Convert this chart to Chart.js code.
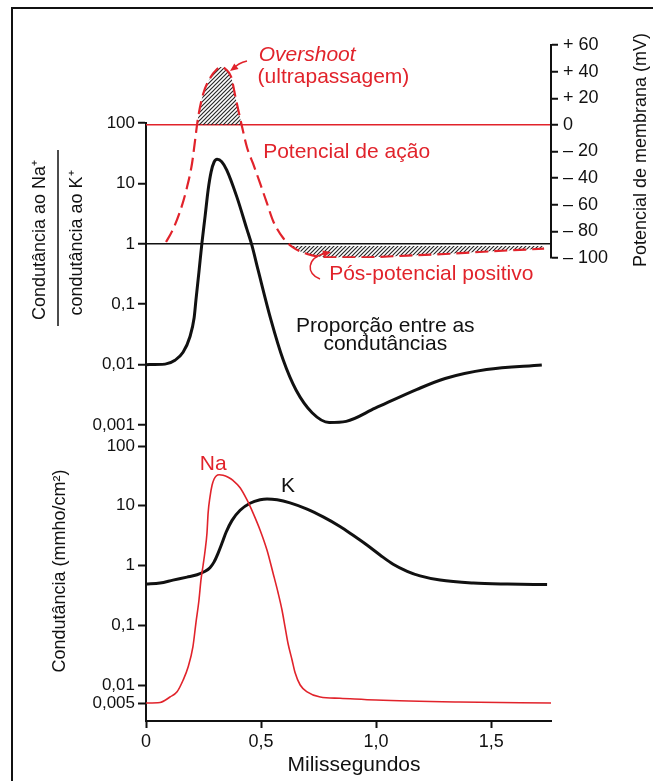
<!DOCTYPE html>
<html>
<head>
<meta charset="utf-8">
<script src="https://cdn.jsdelivr.net/npm/chart.js@4.4.1/dist/chart.umd.min.js"></script>
<style>
  html, body { margin: 0; padding: 0; background: #fff; }
  #wrap { position: relative; width: 653px; height: 781px; overflow: hidden; }
  #wrap canvas { position: absolute; left: 0; top: 0; }
  #frame { position: absolute; left: 11px; top: 7px; width: 700px; height: 800px; border: 2px solid #111; box-sizing: border-box; }
</style>
</head>
<body>
<div id="wrap">
  <div id="frame"></div>
  <canvas id="ratioChart" width="653" height="781"></canvas>
  <canvas id="membraneChart" width="653" height="781"></canvas>
  <canvas id="condChart" width="653" height="781"></canvas>
</div>
<script>
// gNa / gK ratio (top panel, log scale)
const ratioTime  = [0, 0.083, 0.126, 0.161, 0.191, 0.209, 0.217, 0.23, 0.243, 0.257, 0.27, 0.283, 0.296, 0.309, 0.329, 0.351, 0.394, 0.438, 0.46, 0.487, 0.543, 0.596, 0.652, 0.722, 0.796, 0.87, 0.996, 1.178, 1.3, 1.48, 1.72];
const ratioValue = [0.01, 0.0102, 0.0118, 0.016, 0.029, 0.059, 0.117, 0.34, 1.03, 2.9, 7.8, 15.5, 22.6, 25, 22.9, 16.6, 6.1, 1.77, 0.95, 0.37, 0.055, 0.012, 0.0038, 0.0016, 0.0011, 0.00115, 0.0019, 0.0039, 0.0059, 0.0083, 0.0099];

// action potential (mV, right axis)
const apTime  = [0.087, 0.113, 0.148, 0.178, 0.2, 0.213, 0.226, 0.248, 0.278, 0.309, 0.325, 0.345, 0.37, 0.39, 0.413, 0.439, 0.465, 0.496, 0.526, 0.552, 0.596, 0.639, 0.7, 0.8, 0.95, 1.1, 1.3, 1.5, 1.73];
const apValue = [-88, -80, -65, -47, -29, -12, 5, 23, 35, 42, 43.5, 42, 36, 20, 2, -17, -29, -44, -59, -72, -85, -92, -97, -99.5, -99.5, -98.5, -97, -95, -93];

// conductances (bottom panel, mmho/cm2)
const naTime  = [0, 0.061, 0.104, 0.135, 0.161, 0.183, 0.204, 0.217, 0.23, 0.239, 0.248, 0.257, 0.265, 0.27, 0.278, 0.287, 0.296, 0.305, 0.318, 0.335, 0.357, 0.378, 0.409, 0.439, 0.465, 0.496, 0.526, 0.552, 0.574, 0.591, 0.604, 0.617, 0.635, 0.648, 0.67, 0.7, 0.757, 0.843, 1.0, 1.36, 1.76];
const naValue = [0.005, 0.0051, 0.0063, 0.0077, 0.012, 0.02, 0.044, 0.11, 0.26, 0.58, 1.0, 1.8, 3.5, 7.6, 14, 22, 28, 31.5, 33, 32.5, 30, 26.5, 20, 12.5, 7.6, 3.9, 1.8, 0.75, 0.35, 0.18, 0.095, 0.05, 0.026, 0.016, 0.01, 0.0077, 0.0063, 0.006, 0.0056, 0.0052, 0.005];
const kTime  = [0, 0.061, 0.117, 0.178, 0.222, 0.257, 0.278, 0.296, 0.313, 0.33, 0.348, 0.374, 0.409, 0.452, 0.496, 0.526, 0.57, 0.626, 0.7, 0.77, 0.843, 0.9, 0.96, 1.017, 1.074, 1.135, 1.191, 1.278, 1.422, 1.57, 1.743];
const kValue = [0.49, 0.51, 0.57, 0.64, 0.7, 0.8, 0.92, 1.15, 1.6, 2.35, 3.6, 5.7, 8.4, 11, 12.6, 13, 12.6, 11.2, 8.8, 6.5, 4.5, 3.2, 2.2, 1.5, 1.05, 0.8, 0.67, 0.57, 0.51, 0.49, 0.48];

// axis ticks
const timeTicks = [0, 0.5, 1.0, 1.5];
const timeTickLabels = ["0", "0,5", "1,0", "1,5"];
const ratioTicks = [0.001, 0.01, 0.1, 1, 10, 100];
const ratioTickLabels = ["0,001", "0,01", "0,1", "1", "10", "100"];
const mvTicks = [-100, -80, -60, -40, -20, 0, 20, 40, 60];
const mvTickLabels = ["\u2013 100", "\u2013 80", "\u2013 60", "\u2013 40", "\u2013 20", "0", "+ 20", "+ 40", "+ 60"];
const condTicks = [0.005, 0.01, 0.1, 1, 10, 100];
const condTickLabels = ["0,005", "0,01", "0,1", "1", "10", "100"];

const RED = "#e1232b";
const INK = "#111";
const FONT = "'Liberation Sans', Arial, Helvetica, sans-serif";
const NONE = "rgba(0,0,0,0)";
const timeMax = 1.76;

function pts(xs, ys) { return xs.map((x, i) => ({ x: x, y: ys[i] })); }

function hatch() {
  const c = document.createElement("canvas");
  c.width = 4; c.height = 4;
  const g = c.getContext("2d");
  g.strokeStyle = "#2a2a2a";
  g.lineWidth = 1.2;
  g.beginPath();
  g.moveTo(0, 4); g.lineTo(4, 0);
  g.moveTo(-1, 1); g.lineTo(1, -1);
  g.moveTo(3, 5); g.lineTo(5, 3);
  g.stroke();
  return g.createPattern(c, "repeat");
}

function txt(ctx, s, x, y, opt) {
  opt = opt || {};
  ctx.save();
  ctx.translate(x, y);
  if (opt.rot) ctx.rotate(opt.rot);
  ctx.font = (opt.style || "") + " " + (opt.size || 18) + "px " + FONT;
  ctx.fillStyle = opt.color || INK;
  ctx.textAlign = opt.align || "left";
  ctx.textBaseline = "middle";
  ctx.fillText(s, 0, 0);
  ctx.restore();
}

function arrowHead(ctx, x, y, ang, color) {
  ctx.save();
  ctx.fillStyle = color;
  ctx.translate(x, y);
  ctx.rotate(ang);
  ctx.beginPath();
  ctx.moveTo(0, 0); ctx.lineTo(-8, -3.5); ctx.lineTo(-8, 3.5);
  ctx.closePath();
  ctx.fill();
  ctx.restore();
}

const tickFont = { family: FONT, size: 17 };
const hiddenX = { type: "linear", min: 0, max: timeMax, display: false };
const pattern = hatch();

// Top panel: ratio of conductances
new Chart(document.getElementById("ratioChart"), {
  type: "line",
  data: {
    datasets: [{
      data: pts(ratioTime, ratioValue),
      borderColor: INK, borderWidth: 3, pointRadius: 0,
      cubicInterpolationMode: "monotone", fill: false
    }]
  },
  options: {
    responsive: false, animation: false,
    layout: { padding: { top: 123, bottom: 335, left: 0, right: 102 } },
    plugins: { legend: { display: false }, tooltip: { enabled: false } },
    scales: {
      x: hiddenX,
      y: {
        type: "logarithmic", min: 0.00045, max: 100,
        afterBuildTicks: s => { s.ticks = ratioTicks.map(v => ({ value: v })); },
        afterFit: s => { s.width = 146; },
        ticks: { callback: (v, i) => ratioTickLabels[i], font: tickFont, color: INK, padding: 3, autoSkip: false },
        grid: {
          color: c => (c.tick && c.tick.value === 1 ? INK : NONE),
          lineWidth: 1.5, tickColor: INK, tickLength: 8, tickWidth: 2
        },
        border: { color: INK, width: 2 }
      }
    }
  },
  plugins: [{
    id: "ratioText",
    afterDraw(chart) {
      const ctx = chart.ctx, x = chart.scales.x, y = chart.scales.y;
      txt(ctx, "Condut\u00e2ncia ao Na\u207a", 40, 240, { rot: -Math.PI / 2, align: "center", size: 18 });
      txt(ctx, "condut\u00e2ncia ao K\u207a", 77, 243, { rot: -Math.PI / 2, align: "center", size: 18 });
      ctx.save();
      ctx.strokeStyle = INK; ctx.lineWidth = 1.5;
      ctx.beginPath(); ctx.moveTo(58, 150); ctx.lineTo(58, 326); ctx.stroke();
      ctx.restore();
      const cx = x.getPixelForValue(1.04);
      txt(ctx, "Propor\u00e7\u00e3o entre as", cx, y.getPixelForValue(0.044), { align: "center", size: 21 });
      txt(ctx, "condut\u00e2ncias", cx, y.getPixelForValue(0.022), { align: "center", size: 21 });
    }
  }]
});

// Top panel: membrane potential (right axis)
new Chart(document.getElementById("membraneChart"), {
  type: "line",
  data: {
    datasets: [{
      data: pts(apTime, apValue),
      borderColor: RED, borderWidth: 2.2, borderDash: [13, 6], pointRadius: 0,
      cubicInterpolationMode: "monotone",
      fill: { target: { value: 0 }, above: pattern, below: NONE }
    }, {
      data: pts(apTime, apValue),
      borderColor: NONE, borderWidth: 0, pointRadius: 0,
      cubicInterpolationMode: "monotone",
      fill: { target: { value: -91 }, above: NONE, below: pattern }
    }]
  },
  options: {
    responsive: false, animation: false,
    layout: { padding: { top: 45, bottom: 523, left: 146, right: 0 } },
    plugins: { legend: { display: false }, tooltip: { enabled: false } },
    scales: {
      x: hiddenX,
      y: {
        type: "linear", position: "right", min: -100, max: 60,
        afterBuildTicks: s => { s.ticks = mvTicks.map(v => ({ value: v })); },
        afterFit: s => { s.width = 102; },
        ticks: { callback: (v, i) => mvTickLabels[i], font: { family: FONT, size: 18 }, color: INK, padding: 5, autoSkip: false },
        grid: {
          color: c => (c.tick && c.tick.value === 0 ? RED : NONE),
          lineWidth: 1.5, tickColor: INK, tickLength: 7, tickWidth: 2
        },
        border: { color: INK, width: 2 }
      }
    }
  },
  plugins: [{
    id: "apText",
    afterDraw(chart) {
      const ctx = chart.ctx, x = chart.scales.x, y = chart.scales.y;
      txt(ctx, "Overshoot", x.getPixelForValue(0.49), y.getPixelForValue(52), { style: "italic", color: RED, size: 21 });
      txt(ctx, "(ultrapassagem)", x.getPixelForValue(0.485), y.getPixelForValue(36), { color: RED, size: 21 });
      txt(ctx, "Potencial de a\u00e7\u00e3o", x.getPixelForValue(0.509), y.getPixelForValue(-20.5), { color: RED, size: 21 });
      txt(ctx, "P\u00f3s-potencial positivo", x.getPixelForValue(0.796), y.getPixelForValue(-112), { color: RED, size: 21 });
      txt(ctx, "Potencial de membrana (mV)", 641, 150, { rot: -Math.PI / 2, align: "center", size: 18 });
      ctx.save();
      ctx.strokeStyle = RED; ctx.lineWidth = 1.5;
      // overshoot pointer
      ctx.beginPath(); ctx.moveTo(247, 61); ctx.quadraticCurveTo(238, 63, 233, 69); ctx.stroke();
      arrowHead(ctx, 230, 71, 2.5, RED);
      // after-potential pointer
      ctx.beginPath(); ctx.moveTo(320, 279); ctx.bezierCurveTo(306, 274, 306, 258, 326, 253); ctx.stroke();
      arrowHead(ctx, 331, 252, -0.25, RED);
      ctx.restore();
    }
  }]
});

// Bottom panel: Na and K conductances
new Chart(document.getElementById("condChart"), {
  type: "line",
  data: {
    datasets: [{
      data: pts(naTime, naValue),
      borderColor: RED, borderWidth: 1.6, pointRadius: 0,
      cubicInterpolationMode: "monotone", fill: false
    }, {
      data: pts(kTime, kValue),
      borderColor: INK, borderWidth: 3, pointRadius: 0,
      cubicInterpolationMode: "monotone", fill: false
    }]
  },
  options: {
    responsive: false, animation: false,
    layout: { padding: { top: 446, bottom: 0, left: 0, right: 102 } },
    plugins: { legend: { display: false }, tooltip: { enabled: false } },
    scales: {
      x: {
        type: "linear", min: 0, max: timeMax,
        afterBuildTicks: s => { s.ticks = timeTicks.map(v => ({ value: v })); },
        afterFit: s => { s.height = 60; },
        ticks: { callback: (v, i) => timeTickLabels[i], font: { family: FONT, size: 18 }, color: INK, padding: 3, autoSkip: false, maxRotation: 0 },
        grid: { color: NONE, tickColor: INK, tickLength: 7, tickWidth: 2 },
        border: { color: INK, width: 2 }
      },
      y: {
        type: "logarithmic", min: 0.0025, max: 100,
        afterBuildTicks: s => { s.ticks = condTicks.map(v => ({ value: v })); },
        afterFit: s => { s.width = 146; },
        ticks: { callback: (v, i) => condTickLabels[i], font: tickFont, color: INK, padding: 3, autoSkip: false },
        grid: { color: NONE, tickColor: INK, tickLength: 8, tickWidth: 2 },
        border: { color: INK, width: 2 }
      }
    }
  },
  plugins: [{
    id: "condText",
    afterDraw(chart) {
      const ctx = chart.ctx, x = chart.scales.x, y = chart.scales.y;
      txt(ctx, "Na", x.getPixelForValue(0.292), y.getPixelForValue(50), { color: RED, align: "center", size: 21 });
      txt(ctx, "K", x.getPixelForValue(0.617), y.getPixelForValue(21.4), { align: "center", size: 21 });
      txt(ctx, "Condut\u00e2ncia (mmho/cm\u00b2)", 60, 571, { rot: -Math.PI / 2, align: "center", size: 18 });
      txt(ctx, "Milissegundos", 354, 765, { align: "center", size: 21 });
    }
  }]
});
</script>
</body>
</html>
